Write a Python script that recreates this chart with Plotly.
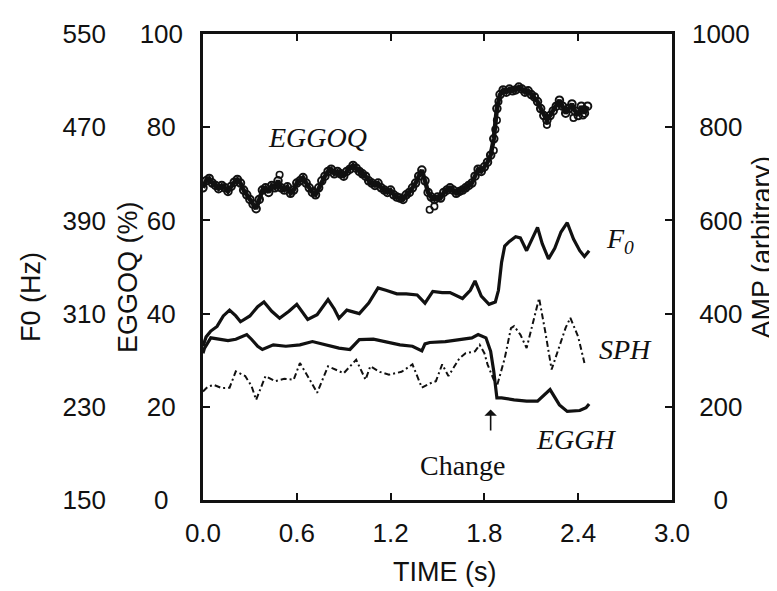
import plotly.graph_objects as go

# ---------------- data ----------------
time_ticks = [0.0, 0.6, 1.2, 1.8, 2.4, 3.0]
time_ticktext = ["0.0", "0.6", "1.2", "1.8", "2.4", "3.0"]
oq_ticks = [0, 20, 40, 60, 80, 100]
oq_ticktext = ["0\u2007", "20\u2008", "40\u2008", "60\u2008", "80\u2008", "100"]
f0_ticks = [150, 230, 310, 390, 470, 550]
f0_ticktext = ["150", "230", "310", "390", "470", "550"]
amp_ticks = [0, 200, 400, 600, 800, 1000]
amp_ticktext = ["\u2007\u20080", "\u2008200", "\u2008400", "\u2008600", "\u2008800", "1000"]

# EGGOQ (%) - scatter of open circles
eggoq_t = [0.00, 0.02, 0.04, 0.06, 0.08, 0.10, 0.12, 0.14, 0.16, 0.18, 0.20, 0.22, 0.24, 0.26,
           0.28, 0.30, 0.32, 0.34, 0.36, 0.38, 0.40, 0.42, 0.44, 0.46, 0.48, 0.50, 0.52, 0.54,
           0.56, 0.58, 0.60, 0.62, 0.64, 0.66, 0.68, 0.70, 0.72, 0.74, 0.76, 0.78, 0.80, 0.82,
           0.84, 0.86, 0.88, 0.90, 0.92, 0.94, 0.96, 0.98, 1.00, 1.02, 1.04, 1.06, 1.08, 1.10,
           1.12, 1.14, 1.16, 1.18, 1.20, 1.22, 1.24, 1.26, 1.28, 1.30, 1.32, 1.34, 1.36, 1.38,
           1.40, 1.42, 1.44, 1.46, 1.48, 1.50, 1.52, 1.54, 1.56, 1.58, 1.60, 1.62, 1.64, 1.66,
           1.68, 1.70, 1.72, 1.74, 1.76, 1.78, 1.80, 1.82, 1.84, 1.86, 1.88, 1.90, 1.92, 1.94,
           1.96, 1.98, 2.00, 2.02, 2.04, 2.06, 2.08, 2.10, 2.12, 2.14, 2.16, 2.18, 2.20, 2.22,
           2.24, 2.26, 2.28, 2.30, 2.32, 2.34, 2.36, 2.38, 2.40, 2.42, 2.44, 2.46]
eggoq_v = [67.0, 68.5, 69.0, 68.0, 67.5, 66.8, 67.5, 67.0, 66.2, 67.3, 68.2, 68.8, 68.0, 66.5,
           65.5, 64.5, 63.5, 62.5, 64.5, 66.5, 67.0, 66.0, 67.5, 67.0, 68.5, 67.0, 66.5, 67.2,
           65.8, 66.5, 68.0, 68.5, 69.2, 68.0, 67.0, 66.0, 65.5, 67.0, 68.5, 69.5, 70.5, 71.0,
           70.0, 70.5, 70.0, 69.5, 70.5, 71.0, 71.8, 71.2, 70.5, 70.0, 69.5, 68.5, 68.0, 67.5,
           68.0, 67.0, 66.5, 66.0, 66.5, 65.5, 65.0, 64.8, 64.5, 65.5, 66.0, 67.0, 68.0, 69.5,
           70.8, 68.5, 66.0, 65.0, 64.5, 65.0, 64.8, 66.0, 66.5, 67.0, 66.5, 65.8, 66.2, 66.5,
           67.0, 67.5, 68.0, 69.5, 71.0, 70.5, 71.5, 72.5, 74.0, 77.5, 84.0, 87.0, 88.0, 87.5,
           88.2, 87.8, 88.0, 88.6, 88.2, 87.5, 87.8, 87.0, 86.5, 85.5, 84.0, 82.5, 81.5, 82.5,
           83.5, 84.5, 85.8, 84.5, 83.0, 84.0, 85.0, 83.5, 82.5, 84.5, 83.0, 84.5]
eggoq_extra_t = [0.49, 1.45, 1.48, 1.86, 1.87, 1.88, 1.89, 2.20, 2.37, 2.43]
eggoq_extra_v = [69.8, 62.3, 63.0, 75.0, 79.5, 81.5, 85.5, 80.5, 82.0, 82.5]

# F0 (Hz)
f0_t = [0.00, 0.02, 0.05, 0.09, 0.13, 0.17, 0.21, 0.24, 0.30, 0.35, 0.39, 0.44, 0.49, 0.55,
        0.60, 0.64, 0.67, 0.73, 0.80, 0.84, 0.87, 0.92, 1.00, 1.06, 1.12, 1.17, 1.24, 1.30,
        1.37, 1.42, 1.47, 1.53, 1.58, 1.66, 1.71, 1.74, 1.78, 1.83, 1.87, 1.89, 1.91, 1.93,
        1.96, 2.00, 2.03, 2.07, 2.10, 2.14, 2.17, 2.21, 2.25, 2.29, 2.33, 2.37, 2.41, 2.44, 2.47]
f0_v = [282, 290, 295, 299, 308, 313, 308, 303, 308, 316, 320, 312, 306, 312,
        318, 310, 305, 309, 322, 314, 306, 313, 310, 319, 332, 330, 327, 327,
        326, 319, 329, 328, 328, 323, 330, 338, 325, 318, 320, 330, 354, 368,
        372, 376, 375, 364, 372, 384, 370, 357, 366, 380, 388, 374, 364, 359, 364]

# EGGH amplitude (arbitrary)
eggh_t = [0.00, 0.01, 0.05, 0.11, 0.16, 0.21, 0.28, 0.31, 0.35, 0.38, 0.45, 0.53, 0.62, 0.70,
          0.79, 0.87, 0.94, 1.00, 1.09, 1.17, 1.26, 1.34, 1.40, 1.42, 1.45, 1.55, 1.66, 1.72,
          1.76, 1.81, 1.84, 1.86, 1.88, 1.91, 1.99, 2.07, 2.14, 2.22, 2.28, 2.33, 2.41, 2.45, 2.47]
eggh_v = [315, 326, 348, 345, 342, 345, 355, 345, 330, 323, 333, 330, 333, 340,
          333, 326, 323, 344, 345, 340, 333, 330, 320, 335, 338, 340, 345, 348,
          355, 348, 319, 276, 219, 219, 215, 212, 212, 237, 204, 190, 192, 198, 206]

# SPH amplitude (arbitrary)
sph_t = [0.00, 0.03, 0.07, 0.12, 0.17, 0.21, 0.27, 0.31, 0.34, 0.40, 0.46, 0.52, 0.58, 0.62,
         0.68, 0.73, 0.80, 0.85, 0.90, 0.98, 1.04, 1.07, 1.13, 1.19, 1.27, 1.34, 1.40, 1.45,
         1.49, 1.53, 1.57, 1.64, 1.68, 1.74, 1.77, 1.80, 1.82, 1.86, 1.88, 1.93, 1.97, 1.99,
         2.03, 2.07, 2.11, 2.15, 2.19, 2.23, 2.28, 2.32, 2.35, 2.40, 2.44]
sph_v = [233, 243, 247, 240, 241, 276, 266, 245, 215, 266, 255, 260, 258, 294,
         260, 230, 287, 280, 272, 301, 258, 287, 275, 269, 275, 291, 241, 250,
         255, 291, 266, 304, 315, 319, 333, 315, 291, 258, 244, 304, 369, 373,
         355, 326, 380, 433, 360, 280, 330, 370, 391, 350, 294]

# ---------------- figure ----------------
SANS = "Liberation Sans, Arial, sans-serif"
SERIF = "Liberation Serif, Times New Roman, serif"
BLACK = "#111111"

fig = go.Figure()

fig.add_trace(go.Scatter(x=eggoq_t, y=eggoq_v, mode="lines+markers",
                         line=dict(color=BLACK, width=4.5),
                         marker=dict(symbol="circle-open", size=7.5, color=BLACK,
                                     line=dict(width=2, color=BLACK)),
                         yaxis="y", showlegend=False))
fig.add_trace(go.Scatter(x=eggoq_extra_t, y=eggoq_extra_v, mode="markers",
                         marker=dict(symbol="circle-open", size=6.5, color=BLACK,
                                     line=dict(width=1.6, color=BLACK)),
                         yaxis="y", showlegend=False))
fig.add_trace(go.Scatter(x=f0_t, y=f0_v, mode="lines",
                         line=dict(color=BLACK, width=3.2),
                         yaxis="y3", showlegend=False))
fig.add_trace(go.Scatter(x=eggh_t, y=eggh_v, mode="lines",
                         line=dict(color=BLACK, width=3.2),
                         yaxis="y2", showlegend=False))
fig.add_trace(go.Scatter(x=sph_t, y=sph_v, mode="lines",
                         line=dict(color=BLACK, width=2, dash="6px,3px,2px,3px"),
                         yaxis="y2", showlegend=False))

TICKFONT = dict(family=SANS, size=26, color=BLACK)
axis_common = dict(showgrid=False, zeroline=False, linecolor=BLACK, linewidth=2.5,
                   tickcolor=BLACK, tickwidth=2, ticklen=7, automargin=False,
                   tickfont=TICKFONT)

fig.update_layout(
    width=777, height=591,
    margin=dict(l=20, r=113, t=26, b=99),
    paper_bgcolor="white", plot_bgcolor="white",
    xaxis=dict(domain=[0.2717, 1.0], range=[0, 3.0], tickvals=time_ticks, ticktext=time_ticktext,
               ticks="inside", showline=True, mirror="ticks", ticklabelstandoff=8,
               **axis_common),
    yaxis=dict(range=[0, 100], tickvals=oq_ticks, ticktext=oq_ticktext, ticks="inside",
               showline=True, ticklabelstandoff=12, **axis_common),
    yaxis2=dict(range=[0, 1000], tickvals=amp_ticks, ticktext=amp_ticktext, ticks="inside",
                showline=True, overlaying="y", side="right", anchor="x", ticklabelstandoff=12,
                **axis_common),
    yaxis3=dict(range=[150, 550], tickvals=f0_ticks, ticktext=f0_ticktext, ticks="",
                showline=False, overlaying="y", side="left", anchor="free", position=0.121,
                showgrid=False, zeroline=False, automargin=False, tickfont=TICKFONT),
)

TITLEFONT = dict(family=SANS, size=27, color=BLACK)
fig.add_annotation(x=0.0047, y=0.4356, xref="paper", yref="paper", text="F0 (Hz)", textangle=-90,
                   showarrow=False, font=TITLEFONT, xanchor="center", yanchor="middle")
fig.add_annotation(x=0.1553, y=0.4785, xref="paper", yref="paper", text="EGGOQ (%)", textangle=-90,
                   showarrow=False, font=TITLEFONT, xanchor="center", yanchor="middle")
fig.add_annotation(x=1.139, y=0.5429, xref="paper", yref="paper", text="AMP (arbitrary)", textangle=-90,
                   showarrow=False, font=TITLEFONT, xanchor="center", yanchor="middle")
fig.add_annotation(x=0.6475, y=-0.1545, xref="paper", yref="paper", text="TIME (s)",
                   showarrow=False, font=TITLEFONT, xanchor="center", yanchor="middle")

ann_font = dict(family=SERIF, size=28, color=BLACK)
fig.add_annotation(x=0.735, y=77.8, xref="x", yref="y", text="<i>EGGOQ</i>", showarrow=False, font=ann_font)
fig.add_annotation(x=2.67, y=55.6, xref="x", yref="y", text="<i>F<sub>0</sub></i>", showarrow=False, font=ann_font)
fig.add_annotation(x=2.70, y=32.3, xref="x", yref="y", text="<i>SPH</i>", showarrow=False, font=ann_font)
fig.add_annotation(x=2.39, y=12.9, xref="x", yref="y", text="<i>EGGH</i>", showarrow=False, font=ann_font)
fig.add_annotation(x=1.66, y=7.5, xref="x", yref="y", text="Change", showarrow=False, font=ann_font)
fig.add_annotation(x=1.84, y=19.4, xref="x", yref="y", ax=1.84, ay=14.6, axref="x", ayref="y",
                   text="", showarrow=True, arrowhead=1, arrowsize=1.3, arrowwidth=1.6, arrowcolor=BLACK)

fig.write_html("out.html")
